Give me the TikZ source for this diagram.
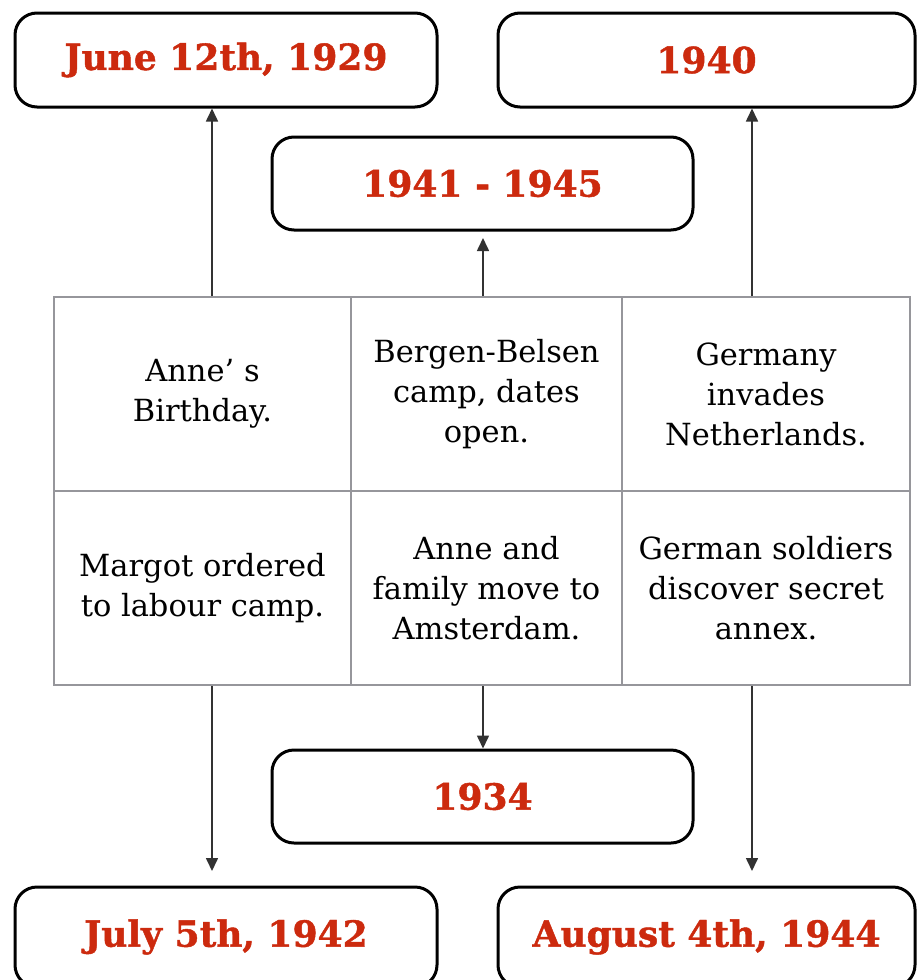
\documentclass[tikz,border=0pt]{standalone}
\usepackage{fontspec}
\setmainfont{DejaVu Serif}
\newfontfamily\headfont[FakeBold=1.2]{DejaVu Serif Bold}
\usetikzlibrary{arrows.meta}
\definecolor{datered}{RGB}{204,42,14}
\definecolor{gridgray}{RGB}{150,150,155}
\definecolor{arrgray}{RGB}{50,50,50}
\tikzset{
  datebox/.style={draw=black, line width=3pt, rounded corners=22pt, fill=white,
    minimum height=94pt, inner sep=0pt, text=datered,
    font=\fontsize{36}{40}\selectfont\headfont},
  cellbox/.style={draw=gridgray, line width=2pt, inner sep=0pt, align=center,
    font=\fontsize{30.5}{40}\selectfont},
  arr/.style={draw=arrgray, line width=1.6pt, -{Triangle[width=12pt,length=13pt]}},
}
\begin{document}
\begin{tikzpicture}[x=1pt,y=-1pt]
\useasboundingbox[fill=white] (0,0) rectangle (917,980);
% date boxes
\node[datebox, minimum width=422pt] (t1) at (226,60) {June 12th, 1929};
\node[datebox, minimum width=417pt] (t2) at (706.5,60) {1940};
\node[datebox, minimum width=421pt, minimum height=93pt] (t3) at (482.5,183.5) {1941 - 1945};
\node[datebox, minimum width=421pt, minimum height=93pt] (b3) at (482.5,796.5) {1934};
\node[datebox, minimum width=422pt, minimum height=100pt] (b1) at (226,937) {July 5th, 1942};
\node[datebox, minimum width=417pt, minimum height=100pt] (b2) at (706.5,937) {August 4th, 1944};
% table cells
\node[cellbox, minimum width=297pt, minimum height=194pt] (c11) at (202.5,394) {Anne’ s\\Birthday.};
\node[cellbox, minimum width=271pt, minimum height=194pt] (c12) at (486.5,394) {Bergen-Belsen\\camp, dates\\open.};
\node[cellbox, minimum width=288pt, minimum height=194pt] (c13) at (766,394) {Germany\\invades\\Netherlands.};
\node[cellbox, minimum width=297pt, minimum height=194pt] (c21) at (202.5,588) {Margot ordered\\to labour camp.};
\node[cellbox, minimum width=271pt, minimum height=194pt] (c22) at (486.5,588) {Anne and\\family move to\\Amsterdam.};
\node[cellbox, minimum width=288pt, minimum height=194pt] (c23) at (766,588) {German soldiers\\discover secret\\annex.};
% arrow columns
\coordinate (xl) at (212,0);
\coordinate (xm) at (483,0);
\coordinate (xr) at (752,0);
\coordinate (um) at (0,238);
\coordinate (dl) at (0,871);
% connectors
\draw[arr] (c11.north -| xl) -- (xl |- t1.south);
\draw[arr] (c12.north -| xm) -- (xm |- um);
\draw[arr] (c13.north -| xr) -- (xr |- t2.south);
\draw[arr] (c21.south -| xl) -- (xl |- dl);
\draw[arr] (c22.south -| xm) -- (xm |- b3.north);
\draw[arr] (c23.south -| xr) -- (xr |- dl);
\end{tikzpicture}
\end{document}
